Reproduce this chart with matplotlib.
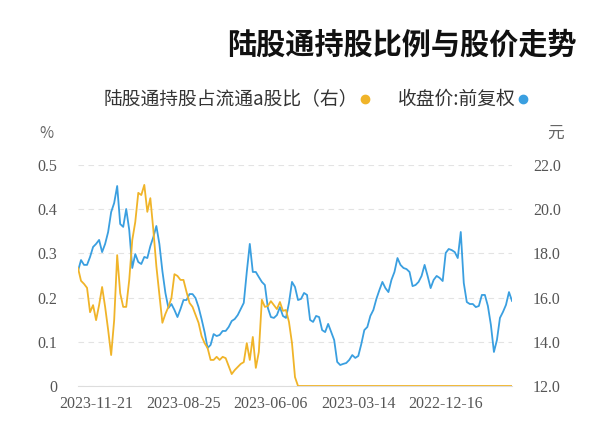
import matplotlib.pyplot as plt
import numpy as np
from matplotlib.lines import Line2D

plt.rcParams['font.family'] = ['Noto Sans CJK SC', 'DejaVu Sans']

# Chart data (index 0 = earliest trading day, drawn at the right edge)
price = [
    15.85, 16.25, 15.67, 15.35, 15.08, 14.08, 13.54, 14.76, 15.62, 16.12,
    16.12, 15.62, 15.57, 15.71, 15.71, 15.80, 16.66, 18.97, 17.79, 18.06,
    18.15, 18.20, 18.02, 16.75, 16.89, 16.98, 16.80, 16.43, 16.98, 17.48,
    16.98, 16.71, 16.57, 16.52, 17.16, 17.29, 17.34, 17.48, 17.79, 17.16,
    16.80, 16.25, 16.43, 16.71, 16.34, 15.94, 15.44, 15.17, 14.67, 14.53,
    13.90, 13.36, 13.27, 13.40, 13.18, 13.04, 13.00, 12.95, 13.09, 14.08,
    14.44, 14.81, 14.44, 14.53, 15.12, 15.17, 14.90, 14.99, 16.12, 16.21,
    15.94, 15.89, 16.48, 16.71, 15.76, 15.08, 15.17, 15.57, 15.21, 15.08,
    15.12, 15.53, 16.57, 16.71, 16.93, 17.16, 17.16, 18.43, 17.16, 15.76,
    15.48, 15.21, 15.03, 14.94, 14.67, 14.49, 14.49, 14.31, 14.26, 14.35,
    13.86, 13.72, 14.44, 15.03, 15.57, 15.98, 16.16, 16.16, 15.89, 15.89,
    15.48, 15.12, 15.44, 15.71, 15.53, 16.21, 17.20, 18.43, 19.24, 18.74,
    18.33, 17.79, 17.84, 17.52, 17.61, 17.97, 17.34, 19.06, 20.01, 19.20,
    19.33, 21.05, 20.28, 19.87, 18.97, 18.43, 18.06, 18.61, 18.43, 18.29,
    17.84, 17.48, 17.48, 17.70, 17.20,
]
hold_pct = [
    0.0, 0.0, 0.0, 0.0, 0.0, 0.0, 0.0, 0.0, 0.0, 0.0,
    0.0, 0.0, 0.0, 0.0, 0.0, 0.0, 0.0, 0.0, 0.0, 0.0,
    0.0, 0.0, 0.0, 0.0, 0.0, 0.0, 0.0, 0.0, 0.0, 0.0,
    0.0, 0.0, 0.0, 0.0, 0.0, 0.0, 0.0, 0.0, 0.0, 0.0,
    0.0, 0.0, 0.0, 0.0, 0.0, 0.0, 0.0, 0.0, 0.0, 0.0,
    0.0, 0.0, 0.0, 0.0, 0.0, 0.0, 0.0, 0.0, 0.0, 0.0,
    0.0, 0.0, 0.0, 0.0, 0.0, 0.0, 0.0, 0.0, 0.0, 0.0,
    0.0, 0.0, 0.02, 0.097, 0.145, 0.172, 0.170, 0.190, 0.174, 0.183,
    0.192, 0.181, 0.179, 0.195, 0.077, 0.041, 0.111, 0.059, 0.097, 0.054,
    0.050, 0.043, 0.036, 0.027, 0.045, 0.063, 0.066, 0.059, 0.066, 0.059,
    0.059, 0.086, 0.097, 0.113, 0.143, 0.161, 0.179, 0.188, 0.213, 0.240,
    0.240, 0.249, 0.253, 0.199, 0.179, 0.163, 0.143, 0.208, 0.271, 0.353,
    0.425, 0.394, 0.455, 0.432, 0.437, 0.371, 0.330, 0.240, 0.179, 0.179,
    0.210, 0.296, 0.149, 0.070, 0.127, 0.179, 0.224, 0.183, 0.149, 0.183,
    0.167, 0.222, 0.231, 0.238, 0.267,
]
date_labels = ['2022-12-16', '2023-03-14', '2023-06-06', '2023-08-25', '2023-11-21']
date_index = [22, 51, 80, 109, 138]
price_ticks = [12, 14, 16, 18, 20, 22]
pct_ticks = [0, 0.1, 0.2, 0.3, 0.4, 0.5]
pct_labels = ['0', '0.1', '0.2', '0.3', '0.4', '0.5']

title = '陆股通持股比例与股价走势'
series_names = ['收盘价:前复权', '陆股通持股占流通a股比（右）']

BLUE = '#3a9fe0'
YELLOW = '#f0b429'
TICK_FONT = dict(fontfamily='Liberation Serif', fontsize=11.5, color='#555555')

W, H = 600, 446
fig = plt.figure(figsize=(W / 100, H / 100), dpi=100)
ax = fig.add_axes([78 / W, (H - 386) / H, 434 / W, 221 / H])
ax2 = ax.twinx()

x = np.arange(len(price))

# Price axis (right side) with dashed grid
ax.plot(x, price, color=BLUE, lw=1.3, zorder=3)
ax.set_ylim(12, 22)
ax.set_xlim(len(price) - 1, 0)
ax.yaxis.tick_right()
ax.set_yticks(price_ticks, [f'{v:.1f}' for v in price_ticks], **TICK_FONT)
ax.set_xticks(date_index, date_labels, **TICK_FONT)
ax.tick_params(axis='both', length=0)
ax.tick_params(axis='y', pad=15)
ax.tick_params(axis='x', pad=7)
ax.grid(axis='y', color='#e3e3e3', lw=0.8, ls=(0, (5, 4)))
ax.grid(axis='x', visible=False)
for side in ['top', 'left', 'right']:
    ax.spines[side].set_visible(False)
ax.spines['bottom'].set_color('#dddddd')

# Holding ratio axis (left side)
ax2.plot(x, hold_pct, color=YELLOW, lw=1.3, zorder=3)
ax2.set_ylim(0, 0.5)
ax2.yaxis.tick_left()
ax2.set_yticks(pct_ticks, pct_labels, **TICK_FONT)
ax2.tick_params(axis='y', length=0, pad=15)
for side in ['top', 'left', 'right', 'bottom']:
    ax2.spines[side].set_visible(False)

# Units
fig.text(46 / W, 1 - 133 / H, '%', ha='center', va='center', fontsize=11, color='#666666')
fig.text(556 / W, 1 - 133 / H, '元', ha='center', va='center', fontsize=12, color='#666666')

# Title
fig.text(577 / W, 1 - 45 / H, title, ha='right', va='center',
         fontsize=21, fontweight='bold', color='#111111')

# Legend
ly = 1 - 99 / H
fig.add_artist(Line2D([523 / W], [ly], marker='o', ms=6, color=BLUE, transform=fig.transFigure))
fig.text(516 / W, ly, series_names[0], ha='right', va='center', fontsize=13.5, color='#333333')
fig.add_artist(Line2D([365 / W], [ly], marker='o', ms=6, color=YELLOW, transform=fig.transFigure))
fig.text(358 / W, ly, series_names[1], ha='right', va='center', fontsize=13.5, color='#333333')

fig.savefig('out.png', dpi=100, facecolor='white')
